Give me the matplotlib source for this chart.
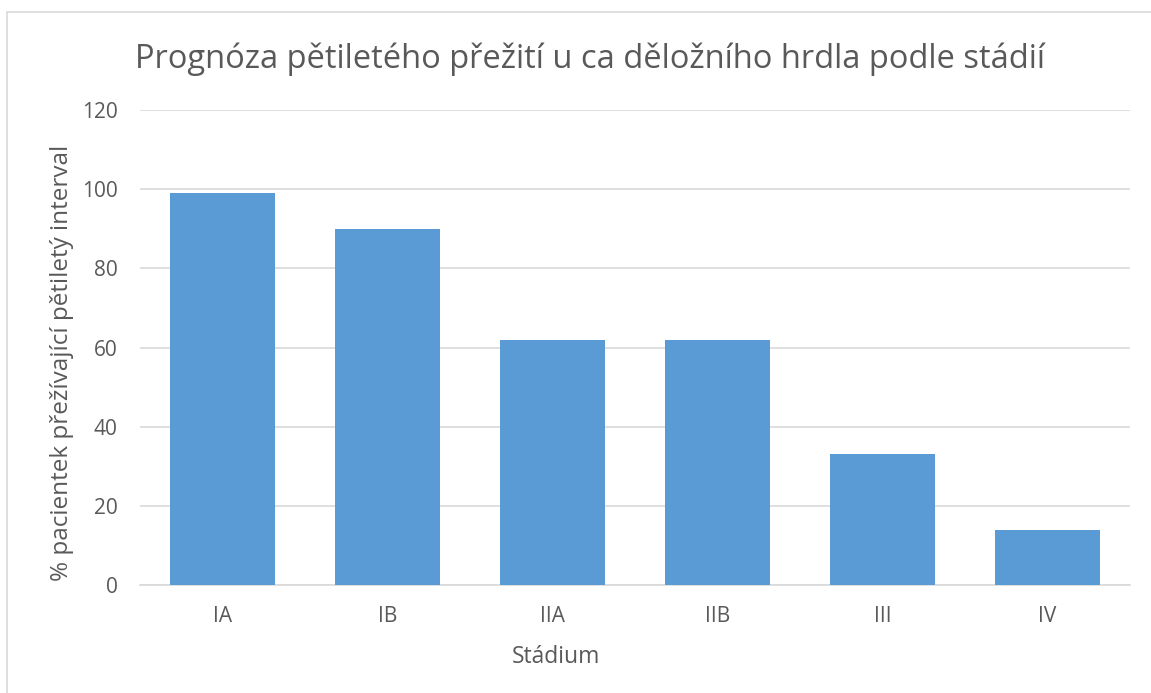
import matplotlib

matplotlib.use("Agg")
import matplotlib.pyplot as plt
from matplotlib.patches import Rectangle

stages = ["IA", "IB", "IIA", "IIB", "III", "IV"]
survival_pct = [99, 90, 62, 62, 33, 14]
y_ticks = [0, 20, 40, 60, 80, 100, 120]

TEXT = "#595959"
GRID = "#D9D9D9"
BAR = "#5B9BD5"

plt.rcParams["font.family"] = ["Open Sans", "DejaVu Sans"]

fig = plt.figure(figsize=(11.51, 6.93), dpi=100)
fig.patch.set_facecolor("white")

# chart border (right and bottom edges fall outside the image)
fig.patches.append(
    Rectangle((7 / 1151, -0.1), 1.2, 1.1 - 12 / 693,
              transform=fig.transFigure, fill=False, edgecolor=GRID, linewidth=1.2)
)

ax = fig.add_axes([140 / 1151, 1 - 585 / 693, 990 / 1151, 475 / 693])
x = range(len(stages))
ax.bar(x, survival_pct, width=0.64, color=BAR, zorder=3)

ax.set_xlim(-0.5, len(stages) - 0.5)
ax.set_ylim(0, 120)
ax.set_yticks(y_ticks)
ax.set_xticks(list(x))
ax.set_xticklabels(stages)
ax.grid(axis="y", color=GRID, linewidth=1.2, zorder=0)
for side in ["top", "right", "left"]:
    ax.spines[side].set_visible(False)
ax.spines["bottom"].set_color(GRID)
ax.spines["bottom"].set_linewidth(1.2)
ax.tick_params(axis="both", length=0, colors=TEXT, labelsize=15)
ax.tick_params(axis="y", pad=16)
ax.tick_params(axis="x", pad=15)

ax.set_xlabel("Stádium", color=TEXT, fontsize=16.5)
ax.set_ylabel("% pacientek přežívající pětiletý interval", color=TEXT, fontsize=17.5)
ax.xaxis.set_label_coords((556 - 140) / 990, (585 - 645) / 475)
ax.yaxis.set_label_coords((74 - 140) / 990, (585 - 363) / 475)

fig.text(590 / 1151, 1 - 59 / 693, "Prognóza pětiletého přežití u ca děložního hrdla podle stádií",
         ha="center", va="center", color=TEXT, fontsize=23.5)

fig.savefig("out.png", dpi=100, facecolor="white")
